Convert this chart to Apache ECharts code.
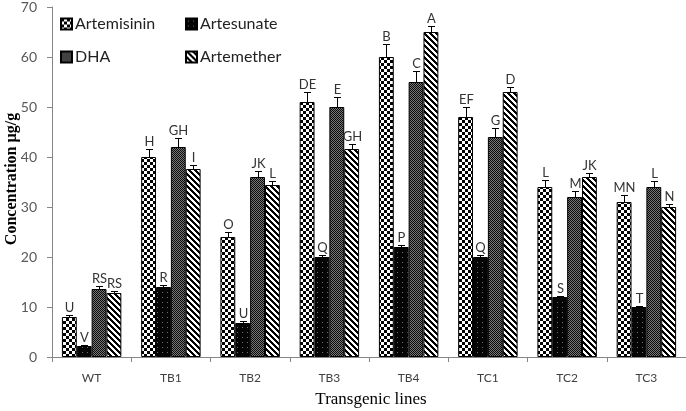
<!DOCTYPE html>
<html>
<head>
<meta charset="utf-8">
<script src="https://cdn.jsdelivr.net/npm/echarts@6/dist/echarts.min.js"></script>
<style>
html,body{margin:0;padding:0;background:#fff;}
#chart{width:686px;height:411px;}
</style>
</head>
<body>
<div id="chart"></div>
<script>
// ---- data ----
const categories = ['WT','TB1','TB2','TB3','TB4','TC1','TC2','TC3'];
const seriesNames = ['Artemisinin','Artesunate','DHA','Artemether'];
const artemisinin = [8.0, 40, 24, 51, 60, 48, 34, 31];
const artesunate  = [2.2, 14, 6.8, 20, 22, 20, 12, 10];
const dha         = [13.6, 42, 36, 50, 55, 44, 32, 34];
const artemether  = [12.8, 37.6, 34.4, 41.6, 65, 53, 36, 30];
const artemisininErr = [0.4, 1.6, 1.0, 2.0, 2.6, 2.0, 1.4, 1.4];
const artesunateErr  = [0.2, 0.4, 0.4, 0.5, 0.5, 0.5, 0.3, 0.3];
const dhaErr         = [0.6, 1.7, 1.2, 2.0, 2.3, 1.7, 1.3, 1.3];
const artemetherErr  = [0.4, 0.8, 0.8, 1.0, 1.3, 1.0, 0.7, 0.7];
const artemisininLetters = ['U','H','O','DE','B','EF','L','MN'];
const artesunateLetters  = ['V','R','U','Q','P','Q','S','T'];
const dhaLetters         = ['RS','GH','JK','E','C','G','M','L'];
const artemetherLetters  = ['RS','I','L','GH','A','D','JK','N'];
const yTicks = {min: 0, max: 70, interval: 10};

const values = [artemisinin, artesunate, dha, artemether];
const errs = [artemisininErr, artesunateErr, dhaErr, artemetherErr];
const letters = [artemisininLetters, artesunateLetters, dhaLetters, artemetherLetters];

// ---- patterns ----
function makePattern(w, h, fn) {
  const c = document.createElement('canvas');
  c.width = w; c.height = h;
  const ctx = c.getContext('2d');
  const img = ctx.createImageData(w, h);
  for (let y = 0; y < h; y++) for (let x = 0; x < w; x++) {
    const v = fn(x, y);
    const i = (y * w + x) * 4;
    img.data[i] = v; img.data[i+1] = v; img.data[i+2] = v; img.data[i+3] = 255;
  }
  ctx.putImageData(img, 0, 0);
  return c;
}
const patChecker = makePattern(6, 6, (x, y) => ((Math.floor(x/3) + Math.floor(y/3)) % 2 === 0) ? 0 : 255);
const patDots = makePattern(5, 5, (x, y) => (x === 2 && y === 2) ? 110 : 5);
const patFine = makePattern(2, 2, (x, y) => ((x + y) % 2 === 0) ? 10 : 120);
const patStripe = makePattern(6, 6, (x, y) => ((((x - y) % 6) + 6) % 6 < 3) ? 0 : 255);
const patterns = [patChecker, patDots, patFine, patStripe];

const SANS = 'Lato, "Liberation Sans", sans-serif';
const SERIF = '"Liberation Serif", "DejaVu Serif", serif';

const chart = echarts.init(document.getElementById('chart'), null, {renderer: 'canvas'});

const series = [];
seriesNames.forEach((name, k) => {
  series.push({
    name: name,
    type: 'bar',
    data: values[k],
    barGap: '0%',
    barCategoryGap: '25%',
    itemStyle: {
      color: {image: patterns[k], repeat: 'repeat'},
      borderColor: '#000',
      borderWidth: 1
    },
    emphasis: {disabled: true},
    z: 2
  });
});
seriesNames.forEach((name, k) => {
  series.push({
    type: 'custom',
    name: name + ' err',
    data: values[k].map((v, i) => [i, v, errs[k][i]]),
    z: 5,
    silent: true,
    renderItem: function (params, api) {
      const ci = api.value(0), v = api.value(1), e = api.value(2);
      const base = api.coord([ci, v]);
      const top = api.coord([ci, v + e]);
      const bw = api.size([1, 0])[0];
      const barW = bw * 0.75 / 4;
      const x = Math.round(base[0] + (k - 1.5) * barW) + 0.5;
      const ty = Math.round(top[1]) + 0.5;
      return {
        type: 'group',
        children: [
          {type: 'line', shape: {x1: x, y1: base[1], x2: x, y2: ty}, style: {stroke: '#000', lineWidth: 1}},
          {type: 'line', shape: {x1: x - 3.5, y1: ty, x2: x + 3.5, y2: ty}, style: {stroke: '#000', lineWidth: 1}},
          {type: 'text', style: {text: letters[k][params.dataIndex], x: x, y: ty - 1,
            textAlign: 'center', textVerticalAlign: 'bottom', fontSize: 13, fontFamily: SANS, fill: '#333'}}
        ]
      };
    }
  });
});

const legendPos = [
  {left: 60, top: 16}, {left: 185, top: 16},
  {left: 60, top: 49}, {left: 185, top: 49}
];
const legends = seriesNames.map((n, k) => ({
  data: [n],
  left: legendPos[k].left,
  top: legendPos[k].top,
  padding: 0,
  itemWidth: 11,
  itemHeight: 11,
  icon: 'rect',
  selectedMode: false,
  textStyle: {fontSize: 16, fontFamily: SANS, color: '#222', padding: [0, 0, 0, -2]}
}));

chart.setOption({
  animation: false,
  backgroundColor: '#fff',
  legend: legends,
  grid: {left: 52, top: 6, width: 640, height: 351, containLabel: false},
  xAxis: {
    type: 'category',
    data: categories,
    axisLine: {lineStyle: {color: '#868686', width: 1}},
    axisTick: {show: true, alignWithLabel: false, length: 5, lineStyle: {color: '#868686'}},
    axisLabel: {fontSize: 12, fontFamily: SANS, color: '#404040', margin: 15}
  },
  yAxis: {
    type: 'value',
    min: yTicks.min, max: yTicks.max, interval: yTicks.interval,
    splitLine: {show: false},
    axisLine: {show: true, lineStyle: {color: '#868686', width: 1}},
    axisTick: {show: true, length: 5, lineStyle: {color: '#868686'}},
    axisLabel: {fontSize: 14, fontFamily: SANS, color: '#595959', margin: 15}
  },
  graphic: [
    {type: 'text', x: 0, y: 0, style: {text: 'Transgenic lines', x: 371, y: 400, textAlign: 'center', textVerticalAlign: 'middle',
      fontSize: 17, fontFamily: SERIF, fill: '#000'}},
    {type: 'text', x: 12, y: 179, rotation: Math.PI / 2,
      style: {text: 'Concentration µg/g', x: 0, y: 0, textAlign: 'center', textVerticalAlign: 'middle',
        fontSize: 16, fontWeight: 'bold', fontFamily: SERIF, fill: '#000'}}
  ],
  series: series
});
</script>
</body>
</html>
